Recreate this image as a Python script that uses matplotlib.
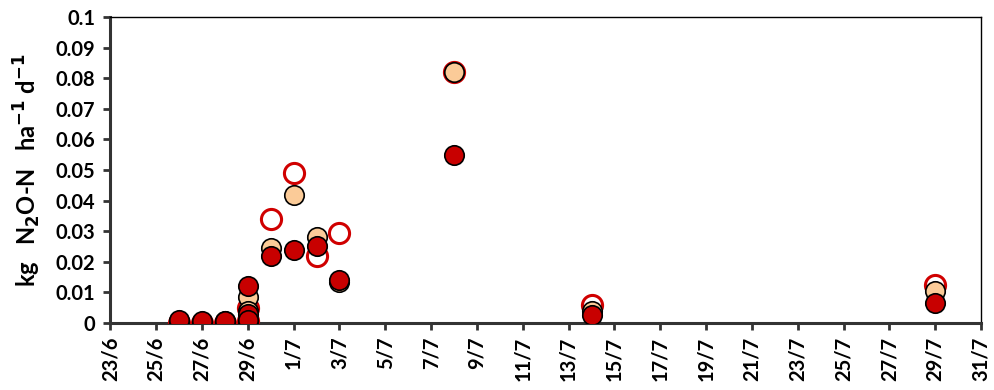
import matplotlib.pyplot as plt
import pandas as pd

# Sampling dates (29/6 sampled several times)
dates_open = ['2016-06-26', '2016-06-27', '2016-06-28', '2016-06-29', '2016-06-29',
              '2016-06-30', '2016-07-01', '2016-07-02', '2016-07-03', '2016-07-08',
              '2016-07-14', '2016-07-29']
vals_open = [0.0, 0.0, 0.0, 0.005, 0.0005,
             0.034, 0.049, 0.022, 0.0295, 0.082,
             0.006, 0.0125]

dates_peach = ['2016-06-26', '2016-06-27', '2016-06-28', '2016-06-29', '2016-06-29',
               '2016-06-29', '2016-06-30', '2016-07-01', '2016-07-02', '2016-07-03',
               '2016-07-08', '2016-07-14', '2016-07-29']
vals_peach = [0.0005, 0.0003, 0.0005, 0.0085, 0.004,
              0.0005, 0.0245, 0.042, 0.028, 0.0133,
              0.082, 0.004, 0.0105]

dates_dark = ['2016-06-26', '2016-06-27', '2016-06-28', '2016-06-29', '2016-06-29',
              '2016-06-29', '2016-06-30', '2016-07-01', '2016-07-02', '2016-07-03',
              '2016-07-08', '2016-07-14', '2016-07-29']
vals_dark = [0.0008, 0.0005, 0.0006, 0.012, 0.003,
             0.001, 0.022, 0.024, 0.025, 0.014,
             0.055, 0.0025, 0.0065]

plt.rcParams['font.family'] = ['Lato', 'DejaVu Sans']
plt.rcParams['font.weight'] = 'bold'
plt.rcParams['mathtext.default'] = 'bf'

fig = plt.figure(figsize=(9.94, 3.9), dpi=100)
ax = fig.add_axes([0.111, 0.172, 0.876, 0.784])

ax.plot(pd.to_datetime(dates_open), vals_open, 'o', ms=14.5, mfc='white',
        mec='#D00000', mew=2.2, zorder=3)
ax.plot(pd.to_datetime(dates_peach), vals_peach, 'o', ms=14, mfc='#FBCB98',
        mec='black', mew=1.2, zorder=4)
ax.plot(pd.to_datetime(dates_dark), vals_dark, 'o', ms=14, mfc='#C80000',
        mec='black', mew=1.2, zorder=5)

ax.set_xlim(pd.Timestamp('2016-06-23'), pd.Timestamp('2016-07-31'))
ax.set_ylim(0, 0.1)
ax.set_yticks([i / 100 for i in range(11)])
ax.set_yticklabels(['0'] + ['%.2f' % (i / 100) for i in range(1, 10)] + ['0.1'])
ticks = pd.date_range('2016-06-23', '2016-07-31', freq='2D')
ax.set_xticks(ticks)
ax.set_xticklabels(['%d/%d' % (t.day, t.month) for t in ticks], rotation=90)

for s in ['left', 'bottom']:
    ax.spines[s].set_color('#333333')
    ax.spines[s].set_linewidth(2.2)
for s in ['top', 'right']:
    ax.spines[s].set_color('black')
    ax.spines[s].set_linewidth(1.0)
ax.tick_params(axis='both', labelsize=14.5, color='#333333', width=2, length=5)
ax.tick_params(axis='y', pad=6)
ax.tick_params(axis='x', pad=5)

ax.set_ylabel('kg   N$_2$O-N   ha$^{-1}$ d$^{-1}$',
              fontsize=17, fontweight='bold', labelpad=9)

plt.savefig('out.png', dpi=100)
